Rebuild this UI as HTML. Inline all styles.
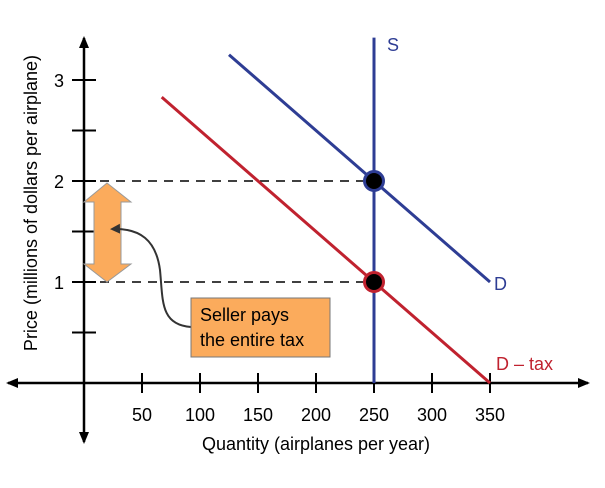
<!DOCTYPE html>
<html><head><meta charset="utf-8"><style>body{margin:0;background:#fff}svg{display:block;font-family:"Liberation Sans",sans-serif}</style></head><body>
<svg id="c" width="605" height="488" viewBox="0 0 605 488">
<defs>
<marker id="ah" markerUnits="userSpaceOnUse" markerWidth="14" markerHeight="14" refX="10" refY="7" orient="auto-start-reverse"><path d="M0,2 L12,7 L0,12 Z" fill="#000"/></marker>
<marker id="ah2" markerUnits="userSpaceOnUse" markerWidth="12" markerHeight="12" refX="8" refY="6" orient="auto"><path d="M0,1 L10,6 L0,11 Z" fill="#333"/></marker>
</defs>
<g id="g"></g>
</svg>
<script>
const xTicks=[50,100,150,200,250,300,350];
const yTicks=[0.5,1,1.5,2,2.5,3];
const yLabels=[1,2,3];
const demand=[[125,3.25],[350,1]];
const demandTax=[[67,2.83],[350,0]];
const supplyQ=250, supplyTop=3.42;
const equilibria=[[250,2],[250,1]];
const X=q=>84+q*1.16, Y=p=>383-p*101;
const g=document.getElementById('g');
const NS='http://www.w3.org/2000/svg';
function mk(t,a,p){const e=document.createElementNS(NS,t);for(const k in a)e.setAttribute(k,a[k]);(p||g).appendChild(e);return e;}
let e;
e=mk('line',{x1:8,y1:383,x2:588,y2:383,stroke:'#000','stroke-width':2.5,'marker-end':'url(#ah)','marker-start':'url(#ah)'});

e=mk('line',{x1:84,y1:442,x2:84,y2:38,stroke:'#000','stroke-width':2.5,'marker-end':'url(#ah)','marker-start':'url(#ah)'});

xTicks.forEach(q=>{e=mk('line',{x1:X(q),y1:373,x2:X(q),y2:393,stroke:'#000','stroke-width':2});

e=mk('text',{x:X(q),y:421,'text-anchor':'middle','font-size':18});e.textContent=q;
});
yTicks.forEach(p=>{e=mk('line',{x1:72,y1:Y(p),x2:96,y2:Y(p),stroke:'#000','stroke-width':2});
});
yLabels.forEach(p=>{e=mk('text',{x:64,y:Y(p)+7,'text-anchor':'end','font-size':18});e.textContent=p;
});
equilibria.forEach(([q,p])=>{e=mk('line',{x1:84,y1:Y(p),x2:X(q),y2:Y(p),stroke:'#000','stroke-width':1.5,'stroke-dasharray':'9,7'});
});
e=mk('line',{x1:X(demand[0][0]),y1:Y(demand[0][1]),x2:X(demand[1][0]),y2:Y(demand[1][1]),stroke:'#2e3d94','stroke-width':3});

e=mk('line',{x1:X(demandTax[0][0]),y1:Y(demandTax[0][1]),x2:X(demandTax[1][0]),y2:Y(demandTax[1][1]),stroke:'#c0222f','stroke-width':3});

e=mk('line',{x1:X(supplyQ),y1:Y(supplyTop),x2:X(supplyQ),y2:383,stroke:'#2e3d94','stroke-width':3});

equilibria.forEach(([q,p],i)=>{e=mk('circle',{cx:X(q),cy:Y(p),r:9.5,fill:'#000',stroke:i?'#c0222f':'#2e3d94','stroke-width':3});
});
e=mk('text',{x:387,y:51,'font-size':18,fill:'#2e3d94'});e.textContent='S';
e=mk('text',{x:494,y:290,'font-size':18,fill:'#2e3d94'});e.textContent='D';
e=mk('text',{x:496,y:370,'font-size':18,fill:'#c0222f'});e.textContent='D – tax';
e=mk('polygon',{points:'107,183 131,202 121,202 121,264 131,264 107,282 84,264 94,264 94,202 84,202',fill:'#fbab5c',stroke:'#999','stroke-width':1});

e=mk('path',{d:'M191,327 C160,325 163,300 160,270 C156,240 140,228 112,229',fill:'none',stroke:'#333','stroke-width':2,'marker-end':'url(#ah2)'});

e=mk('rect',{x:191,y:298,width:139,height:59,fill:'#fbab5c',stroke:'#777','stroke-width':1});

e=mk('text',{x:200,y:321,'font-size':18});e.textContent='Seller pays';
e=mk('text',{x:200,y:346,'font-size':18});e.textContent='the entire tax';
e=mk('text',{x:316,y:450,'text-anchor':'middle','font-size':18});e.textContent='Quantity (airplanes per year)';
e=mk('text',{x:0,y:0,'text-anchor':'middle','font-size':18,transform:'translate(37,203) rotate(-90)'});e.textContent='Price (millions of dollars per airplane)';
</script>
</body></html>
